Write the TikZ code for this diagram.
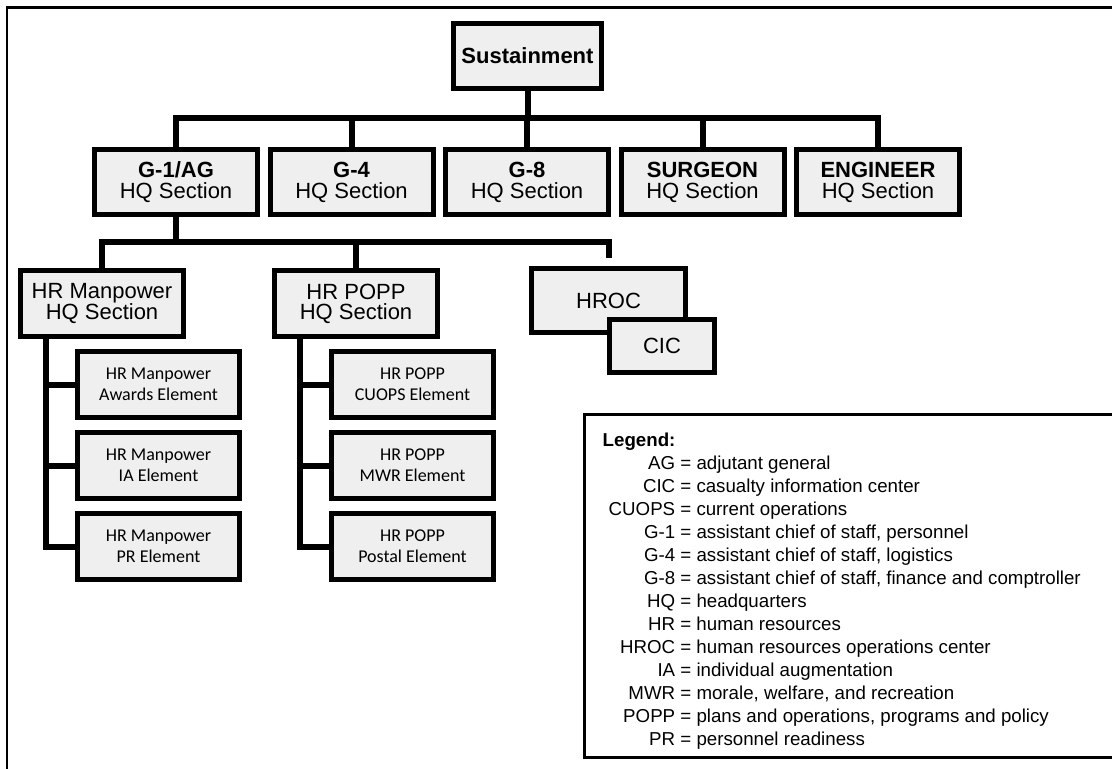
\documentclass[tikz,border=0pt]{standalone}
\usepackage{fontspec}
\setmainfont{Liberation Sans}
\newfontfamily\elemfont{Carlito}
\usetikzlibrary{positioning}
\definecolor{boxgray}{HTML}{EFEFEF}
\tikzstyle{topbox} = [rectangle, draw=black, line width=5pt, fill=boxgray, minimum width=148pt, minimum height=65pt, inner sep=0pt, text centered, font=\fontsize{22}{21}\selectfont\bfseries]
\tikzstyle{staffbox} = [rectangle, draw=black, line width=5pt, fill=boxgray, minimum width=163pt, minimum height=65pt, inner sep=0pt, align=center, font=\fontsize{22}{21}\selectfont]
\tikzstyle{hrbox} = [rectangle, draw=black, line width=5pt, fill=boxgray, minimum width=163pt, minimum height=66pt, inner sep=0pt, align=center, font=\fontsize{22}{20}\selectfont]
\tikzstyle{elembox} = [rectangle, draw=black, line width=5pt, fill=boxgray, minimum width=162pt, minimum height=66pt, inner sep=0pt, align=center, font=\elemfont\fontsize{18}{21}\selectfont]
\tikzstyle{orgline} = [line width=6pt, line join=miter]
\tikzstyle{outerframe} = [line width=2.5pt]
\tikzstyle{legendline} = [line width=3pt]

\begin{document}
\begin{tikzpicture}[x=1pt, y=-1pt, node distance=81pt]
\useasboundingbox (0,0) rectangle (1112,769);
\draw [outerframe] (7,769) -- (7,7.5) -- (1112,7.5);

\node (sust) [topbox] at (527.5,56) {Sustainment};
\node (g1) [staffbox, node distance=126pt, below of=sust, xshift=-351.5pt] {\textbf{G-1/AG}\\HQ Section};
\node (g4) [staffbox, node distance=175.5pt, right of=g1] {\textbf{G-4}\\HQ Section};
\node (g8) [staffbox, node distance=175.5pt, right of=g4] {\textbf{G-8}\\HQ Section};
\node (surg) [staffbox, node distance=175.5pt, right of=g8] {\textbf{SURGEON}\\HQ Section};
\node (eng) [staffbox, node distance=175.5pt, right of=surg] {\textbf{ENGINEER}\\HQ Section};
\node (mp) [hrbox, node distance=121.5pt, below of=g1, xshift=-74pt] {HR Manpower\\HQ Section};
\node (popp) [hrbox, node distance=254pt, right of=mp] {HR POPP\\HQ Section};
\node (hroc) [hrbox, minimum width=154pt, minimum height=64pt, node distance=252.5pt, right of=popp, yshift=3pt] {HROC};
\node (cic) [hrbox, minimum width=105pt, minimum height=53pt, node distance=45.5pt, below of=hroc, xshift=53.5pt] {CIC};
\node (mpaw) [elembox, below of=mp, xshift=56.5pt] {HR Manpower\\Awards Element};
\node (mpia) [elembox, below of=mpaw] {HR Manpower\\IA Element};
\node (mppr) [elembox, below of=mpia] {HR Manpower\\PR Element};
\node (poppcu) [elembox, below of=popp, xshift=56.5pt] {HR POPP\\CUOPS Element};
\node (poppmwr) [elembox, below of=poppcu] {HR POPP\\MWR Element};
\node (popppost) [elembox, below of=poppmwr] {HR POPP\\Postal Element};

\draw [orgline] (sust.south) -- ++(0,27) -| (g1.north);
\draw [orgline] (sust.south) -- ++(0,27) -| (g4.north);
\draw [orgline] (sust.south) -- ++(0,27) -| (g8.north);
\draw [orgline] (sust.south) -- ++(0,27) -| (surg.north);
\draw [orgline] (sust.south) -- ++(0,27) -| (eng.north);
\draw [orgline] (g1.south) -- ++(0,25) -| (mp.north);
\draw [orgline] (g1.south) -- ++(0,25) -| (popp.north);
\draw [orgline, shorten >=8pt] (g1.south) -- ++(0,25) -| (hroc.north);
\draw [orgline] ([xshift=-56pt]mp.south) |- (mpaw.west);
\draw [orgline] ([xshift=-56pt]mp.south) |- (mpia.west);
\draw [orgline] ([xshift=-56pt]mp.south) |- (mppr.west);
\draw [orgline] ([xshift=-56pt]popp.south) |- (poppcu.west);
\draw [orgline] ([xshift=-56pt]popp.south) |- (poppmwr.west);
\draw [orgline] ([xshift=-56pt]popp.south) |- (popppost.west);

\draw [legendline] (1112,414.5) -- (584.5,414.5) -- (584.5,757.5) -- (1112,757.5);
\node (legend) [anchor=north west, inner sep=0pt, font=\fontsize{18.7}{23}\selectfont] at (608.5,430) {\begin{tabular}{@{}r@{\ =\ }l@{}}
\multicolumn{2}{@{}l@{}}{\hspace*{-6pt}\textbf{Legend:}}\\
AG & adjutant general\\
CIC & casualty information center\\
CUOPS & current operations\\
G-1 & assistant chief of staff, personnel\\
G-4 & assistant chief of staff, logistics\\
G-8 & assistant chief of staff, finance and comptroller\\
HQ & headquarters\\
HR & human resources\\
HROC & human resources operations center\\
IA & individual augmentation\\
MWR & morale, welfare, and recreation\\
POPP & plans and operations, programs and policy\\
PR & personnel readiness
\end{tabular}};

\end{tikzpicture}
\end{document}
